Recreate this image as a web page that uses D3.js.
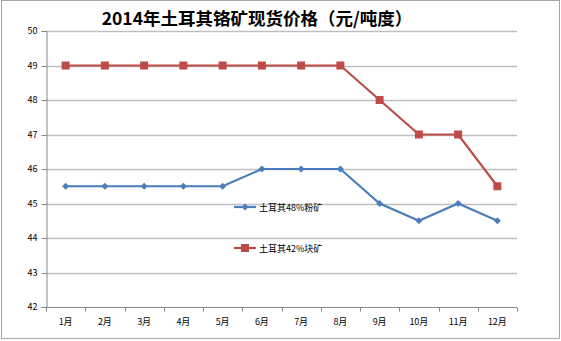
<!DOCTYPE html>
<html><head><meta charset="utf-8">
<script src="https://cdn.jsdelivr.net/npm/d3@7"></script>
<style>body{margin:0;background:#fff}svg{display:block}</style>
</head><body>
<svg id="chart" width="561" height="341"></svg>
<script>
const months = ["1月","2月","3月","4月","5月","6月","7月","8月","9月","10月","11月","12月"];
const powderOre = [45.5,45.5,45.5,45.5,45.5,46,46,46,45,44.5,45,44.5];
const lumpOre = [49,49,49,49,49,49,49,49,48,47,47,45.5];
const yTicks = [42,43,44,45,46,47,48,49,50];
const titleText = "2014年土耳其铬矿现货价格（元/吨度）";
const seriesNames = ["土耳其48%粉矿","土耳其42%块矿"];

const svg = d3.select("#chart");
const font = "'Noto Sans CJK SC', 'DejaVu Sans', sans-serif";
const plotLeft = 46, plotRight = 517, plotTop = 31, plotBottom = 307;

// outer frame
svg.append("rect").attr("x",1.5).attr("y",0.5).attr("width",558).attr("height",338)
  .attr("fill","#fff").attr("stroke","#a6a6a6").attr("stroke-width",1);

const x = d3.scaleBand().domain(months).range([plotLeft,plotRight]).padding(0);
const y = d3.scaleLinear().domain([42,50]).range([plotBottom,plotTop]);

// gridlines
svg.append("g").selectAll("line").data(yTicks.slice(1)).join("line")
  .attr("x1",plotLeft).attr("x2",plotRight)
  .attr("y1",d=>Math.round(y(d))+0.5).attr("y2",d=>Math.round(y(d))+0.5)
  .attr("stroke","#bfbfbf").attr("stroke-width",1.3);

// y axis
const yAxis = svg.append("g").attr("transform",`translate(${plotLeft+0.5},0)`)
  .call(d3.axisLeft(y).tickValues(yTicks).tickSize(5).tickPadding(4).tickFormat(d3.format("d")));
yAxis.select(".domain").attr("stroke","#868686");
yAxis.selectAll(".tick line").attr("stroke","#868686");
yAxis.selectAll(".tick").attr("transform",d=>`translate(0,${Math.round(y(d))+0.5})`);
yAxis.selectAll("text").attr("font-family",font).attr("font-size",9).attr("fill","#000");

// x axis with ticks between categories
const xg = svg.append("g").attr("transform",`translate(0,${plotBottom+0.5})`);
xg.append("line").attr("x1",plotLeft).attr("x2",plotRight).attr("stroke","#868686");
const bounds = months.map(m=>x(m)).concat([plotRight]);
xg.selectAll("line.t").data(bounds).join("line").attr("class","t")
  .attr("x1",d=>Math.round(d)+0.5).attr("x2",d=>Math.round(d)+0.5).attr("y1",0).attr("y2",4)
  .attr("stroke","#868686");
xg.selectAll("text").data(months).join("text")
  .attr("x",d=>x(d)+x.bandwidth()/2).attr("y",17)
  .attr("text-anchor","middle").attr("font-family",font).attr("font-size",9).attr("fill","#000")
  .text(d=>d);

const cx = d=>x(d)+x.bandwidth()/2;
const line = d3.line().x((d,i)=>cx(months[i])).y(d=>y(d));

const blue = "#4a7ebb", red = "#be4b48";

function diamond(g, px, py, c){
  g.append("path").attr("d",`M${px},${py-3.5}L${px+3.5},${py}L${px},${py+3.5}L${px-3.5},${py}Z`).attr("fill",c);
}
function square(g, px, py, c){
  g.append("rect").attr("x",px-4).attr("y",py-4).attr("width",8).attr("height",8).attr("fill",c);
}

// series
svg.append("path").datum(powderOre).attr("d",line).attr("fill","none").attr("stroke",blue).attr("stroke-width",2.2);
const bm = svg.append("g");
powderOre.forEach((v,i)=>diamond(bm,cx(months[i]),y(v),blue));

svg.append("path").datum(lumpOre).attr("d",line).attr("fill","none").attr("stroke",red).attr("stroke-width",2.2);
const rm = svg.append("g");
lumpOre.forEach((v,i)=>square(rm,cx(months[i]),y(v),red));

// legend
const lg = svg.append("g");
[[blue,diamond,207],[red,square,248]].forEach(([c,mk,ly],i)=>{
  lg.append("line").attr("x1",234).attr("x2",256).attr("y1",ly).attr("y2",ly).attr("stroke",c).attr("stroke-width",2.2);
  mk(lg,245,ly,c);
  lg.append("text").attr("x",259).attr("y",ly+3.5).attr("font-family",font).attr("font-size",9).attr("fill","#000").text(seriesNames[i]);
});

// title
svg.append("text").attr("x",257).attr("y",25).attr("text-anchor","middle")
  .attr("font-family",font).attr("font-weight","bold").attr("font-size",17.5).attr("fill","#000").text(titleText);
</script>
</body></html>
